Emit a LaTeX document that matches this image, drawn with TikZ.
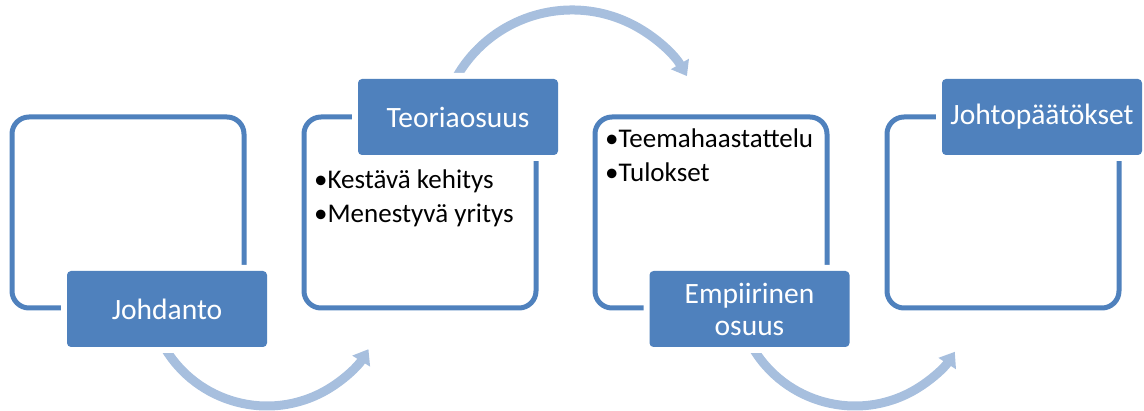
\documentclass[tikz,border=0pt]{standalone}
\usepackage{fontspec}
\setmainfont{Carlito}
\usetikzlibrary{arrows.meta}
\definecolor{accblue}{HTML}{4F81BD}
\definecolor{arrblue}{HTML}{A7BFDE}
\begin{document}
\begin{tikzpicture}[x=1pt,y=-1pt,
  frame/.style={draw=accblue, line width=5pt, rounded corners=17pt, minimum width=232pt, minimum height=191pt, inner sep=0pt},
  tag/.style={fill=accblue, rounded corners=4pt, minimum width=200pt, minimum height=76pt, inner sep=0pt, text=white, font=\fontsize{29.5}{32}\selectfont, align=center, preaction={draw=white, line width=12pt}},
  bul/.style={anchor=base west, inner sep=0pt, font=\fontsize{27}{30}\selectfont, text=black},
  flow/.style={draw=arrblue, line width=9pt, -{Triangle[width=20pt,length=14pt]}}
]
\useasboundingbox (0,0) rectangle (1144,411);
% arc centres
\coordinate (c1) at (267,287);
\coordinate (c2) at (572,143);
\coordinate (c3) at (855,287);
\draw[flow] (c1) ++(150:119) arc[start angle=150, end angle=31.5, radius=119];
\draw[flow] (c2) ++(208:133) arc[start angle=208, end angle=329.8, radius=133];
\draw[flow] (c3) ++(150:119) arc[start angle=150, end angle=33, radius=119];
% frames
\node[frame] (f1) at (128,212.5) {};
\node[frame] (f2) at (420,212.5) {};
\node[frame] (f3) at (711,212.5) {};
\node[frame] (f4) at (1003,212.5) {};
% tags
\node[tag] (t1) at (167,309) {Johdanto};
\node[tag] (t2) at (458,117) {Teoriaosuus};
\node[tag] (t3) at (749.5,309) {Empiirinen\\osuus};
\node[tag] (t4) at (1042,117) {Johtopäätökset};
% bullets
\node[bul] (b2a) at (314,189) {•Kestävä kehitys};
\node[bul] (b2b) at (314,223) {•Menestyvä yritys};
\node[bul] (b3a) at (605,148) {•Teemahaastattelu};
\node[bul] (b3b) at (605,182) {•Tulokset};
\end{tikzpicture}
\end{document}
